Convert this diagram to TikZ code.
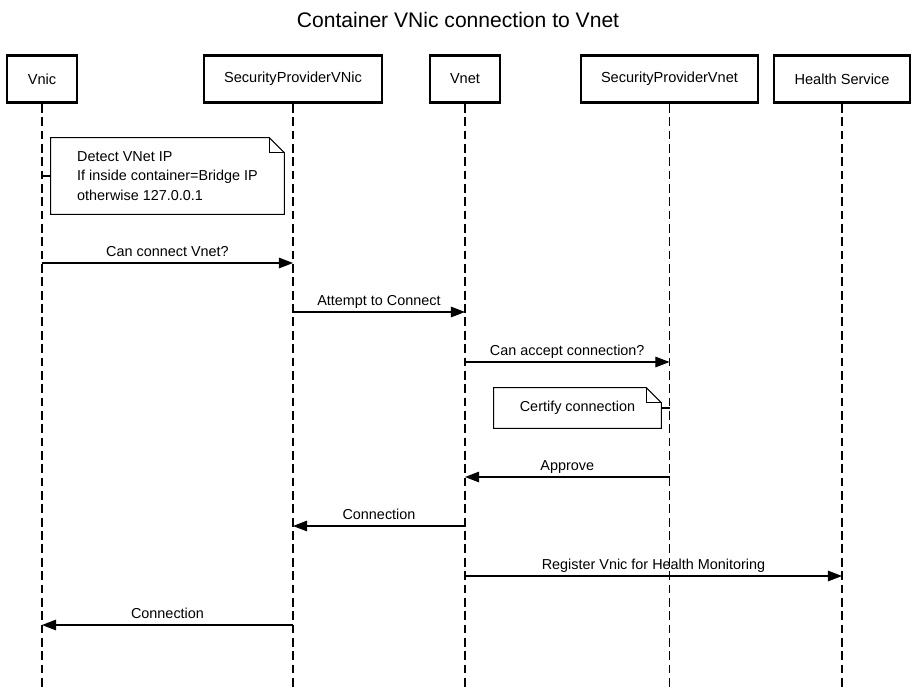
\documentclass[tikz,border=0pt]{standalone}
\usepackage{fontspec}
\setmainfont{Liberation Sans}
\usetikzlibrary{arrows.meta,positioning,calc}

\tikzset{
  actor/.style={draw, line width=1.5pt, minimum height=0.94cm, inner sep=0pt, font=\fontsize{8.3}{10}\selectfont},
  lifeline/.style={line width=0.6pt, dash pattern=on 5pt off 2.6pt},
  msg/.style={line width=0.6pt, -{Triangle[length=8pt, width=6pt]}},
  lbl/.style={midway, above=3.4pt, inner sep=0pt, text depth=0pt, font=\fontsize{8.2}{10}\selectfont},
  notebox/.style={inner sep=0pt, align=left, font=\fontsize{8.2}{11}\selectfont},
  notepath/.style={draw, line width=0.6pt, fill=white},
}

\begin{document}
\begin{tikzpicture}[x=0.02cm, y=-0.02cm]
\useasboundingbox (0,0) rectangle (917,687);
\node[font=\fontsize{12}{14}\selectfont] (title) at (458,20) {Container VNic connection to Vnet};

% participants
\node[actor, minimum width=1.4cm] (vnic) at (42,79) {Vnic};
\node[actor, minimum width=3.56cm] (spvnic) at (293,79) {SecurityProviderVNic};
\node[actor, minimum width=1.4cm] (vnet) at (465,79) {Vnet};
\node[actor, minimum width=3.54cm] (spvnet) at (669.5,79) {SecurityProviderVnet};
\node[actor, minimum width=2.72cm] (health) at (842,79) {Health Service};

\coordinate (bottom) at (0,687);
\foreach \p in {vnic,spvnic,vnet,spvnet,health}
  \draw[lifeline] (\p.south) -- (\p |- bottom);

% message rows
\foreach \n/\y in {1/263,2/312,3/362,4/477,5/526,6/576,7/625}
  \coordinate (r\n) at (0,\y);

% note on Vnic
\node[notebox, minimum width=4.66cm, minimum height=1.52cm] (n1) at (167.5,176) {};
\draw[line width=0.6pt] (vnic |- n1.west) -- (n1.west);
\draw[notepath] (n1.south west) -- (n1.north west) -- ($(n1.north east)+(-15,0)$) -- ($(n1.north east)+(0,15)$) -- (n1.south east) -- cycle;
\draw[line width=0.6pt] ($(n1.north east)+(-15,0)$) |- ($(n1.north east)+(0,15)$);
\node[notebox] at (n1) {Detect VNet IP\\If inside container=Bridge IP\\otherwise 127.0.0.1};

\draw[msg] (vnic |- r1) -- node[lbl] {Can connect Vnet?} (spvnic |- r1);
\draw[msg] (spvnic |- r2) -- node[lbl] {Attempt to Connect} (vnet |- r2);
\draw[msg] (vnet |- r3) -- node[lbl] {Can accept connection?} (spvnet |- r3);

% note on SecurityProviderVnet
\node[notebox, minimum width=3.34cm, minimum height=0.8cm] (n2) at (577.5,408) {};
\draw[line width=0.6pt] (n2.east) -- (spvnet |- n2.east);
\draw[notepath] (n2.south west) -- (n2.north west) -- ($(n2.north east)+(-15,0)$) -- ($(n2.north east)+(0,15)$) -- (n2.south east) -- cycle;
\draw[line width=0.6pt] ($(n2.north east)+(-15,0)$) |- ($(n2.north east)+(0,15)$);
\node[notebox] at (n2) {Certify connection};

\draw[msg] (spvnet |- r4) -- node[lbl] {Approve} (vnet |- r4);
\draw[msg] (vnet |- r5) -- node[lbl] {Connection} (spvnic |- r5);
\draw[msg] (vnet |- r6) -- node[lbl] {Register Vnic for Health Monitoring} (health |- r6);
\draw[msg] (spvnic |- r7) -- node[lbl] {Connection} (vnic |- r7);
\end{tikzpicture}
\end{document}
